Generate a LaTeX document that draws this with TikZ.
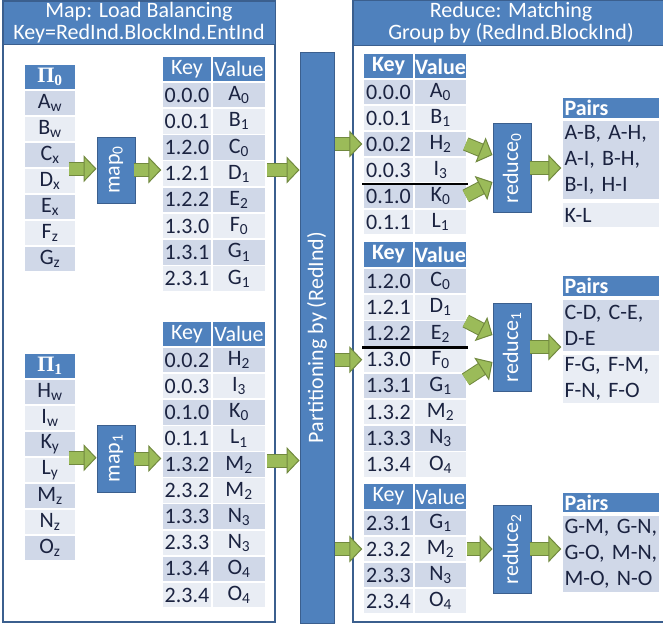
\documentclass[tikz,border=0pt]{standalone}
\usepackage{fontspec}
\setmainfont{Carlito}
\newfontfamily\pifont{Liberation Serif}
\usetikzlibrary{arrows.meta}

\definecolor{hdblue}{HTML}{4F81BD}
\definecolor{bdblue}{HTML}{3B5F8E}
\definecolor{rowdark}{HTML}{D0D8E8}
\definecolor{rowlight}{HTML}{E9EDF4}
\definecolor{gfill}{HTML}{9BBB59}
\definecolor{gline}{HTML}{71893F}
\definecolor{txt}{HTML}{1B2340}

\tikzset{
  panel/.style={draw=bdblue, line width=1.3pt},
  band/.style={fill=hdblue, draw=bdblue, line width=1pt, text=white, align=center, inner sep=0pt, font=\fontsize{22}{22}\selectfont},
  cell/.style={draw=white, line width=1.5pt, inner sep=0pt, text=txt, minimum height=26pt, font=\fontsize{22}{22}\selectfont},
  hcell/.style={cell, fill=hdblue, text=white},
  proc/.style={fill=hdblue, draw=bdblue, line width=1pt, text=white, inner sep=0pt, minimum width=38pt, font=\fontsize{22}{22}\selectfont},
  pcell/.style={cell, text width=93pt, inner xsep=2.5pt, align=left, font=\fontsize{22}{26}\selectfont},
  phead/.style={pcell, fill=hdblue, text=white, minimum height=21pt, font=\fontsize{22}{22}\selectfont\bfseries},
  sepline/.style={black, line width=2.5pt},
  garrow/.style={draw=gfill, line width=12pt,
    -{Triangle[length=13pt, width=27pt, line width=1pt, color=gline, fill=gfill]},
    preaction={draw=gline, line width=14pt, arrows=-, shorten >=11pt}},
}

\begin{document}
\begin{tikzpicture}[x=1pt, y=-1pt]
\useasboundingbox (0,0) rectangle (663,627);

% --- map side ---
\draw[panel] (3,1) rectangle (275,622);
\node[band, minimum width=272pt, minimum height=43pt] (maphead) at (139,22.5) {Map: Load Balancing\\Key=RedInd.BlockInd.EntInd};

% input splits
\node[hcell, minimum width=52pt] (pi0) at (50,77) {\pifont\bfseries Π\textsubscript{0}};
\foreach \l/\s [count=\i] in {A/w,B/w,C/x,D/x,E/x,F/z,G/z} {
  \ifodd\i \def\rowc{rowdark}\else \def\rowc{rowlight}\fi
  \node[cell, fill=\rowc, minimum width=52pt] (pi0c\i) at (50,77+26*\i) {\l\textsubscript{\s}};
}
\node[hcell, minimum width=52pt] (pi1) at (50,366) {\pifont\bfseries Π\textsubscript{1}};
\foreach \l/\s [count=\i] in {H/w,I/w,K/y,L/y,M/z,N/z,O/z} {
  \ifodd\i \def\rowc{rowdark}\else \def\rowc{rowlight}\fi
  \node[cell, fill=\rowc, minimum width=52pt] (pi1c\i) at (50,366+26*\i) {\l\textsubscript{\s}};
}

\node[proc, minimum height=66pt] (map0) at (116,170) {\rotatebox{90}{map\textsubscript{0}}};
\node[proc, minimum height=67pt] (map1) at (116,458.5) {\rotatebox{90}{map\textsubscript{1}}};

% map outputs
\node[hcell, minimum width=50pt] (t0k) at (187,69) {Key};
\node[hcell, minimum width=54pt] (t0v) at (239,69) {Value};
\foreach \k/\l/\s [count=\i] in {0.0.0/A/0,0.0.1/B/1,1.2.0/C/0,1.2.1/D/1,1.2.2/E/2,1.3.0/F/0,1.3.1/G/1,2.3.1/G/1} {
  \ifodd\i \def\rowc{rowdark}\else \def\rowc{rowlight}\fi
  \node[cell, fill=\rowc, minimum width=50pt] (t0k\i) at (187,68.9+26.2*\i) {\k};
  \node[cell, fill=\rowc, minimum width=54pt] (t0v\i) at (239,68.9+26.2*\i) {\l\textsubscript{\s}};
}
\node[hcell, minimum width=50pt] (t1k) at (187,334) {Key};
\node[hcell, minimum width=54pt] (t1v) at (239,334) {Value};
\foreach \k/\l/\s [count=\i] in {0.0.2/H/2,0.0.3/I/3,0.1.0/K/0,0.1.1/L/1,1.3.2/M/2,2.3.2/M/2,1.3.3/N/3,2.3.3/N/3,1.3.4/O/4,2.3.4/O/4} {
  \ifodd\i \def\rowc{rowdark}\else \def\rowc{rowlight}\fi
  \node[cell, fill=\rowc, minimum width=50pt] (t1k\i) at (187,334+26.1*\i) {\k};
  \node[cell, fill=\rowc, minimum width=54pt] (t1v\i) at (239,334+26.1*\i) {\l\textsubscript{\s}};
}

% --- shuffle ---
\node[proc, minimum width=34pt, minimum height=571pt] (part) at (317,337.5) {\rotatebox{90}{Partitioning by (RedInd)}};

% --- reduce side ---
\draw[panel] (670,1) -- (353,1) -- (353,622) -- (670,622);
\node[band, minimum width=316pt, minimum height=45pt] (redhead) at (511,23) {Reduce: Matching\\Group by (RedInd.BlockInd)};

\node[hcell, minimum width=51pt, font=\fontsize{22}{22}\selectfont\bfseries] (r0k) at (388.5,66.5) {Key};
\node[hcell, minimum width=53pt, font=\fontsize{22}{22}\selectfont\bfseries] (r0v) at (440.5,66.5) {Value};
\foreach \k/\l/\s [count=\i] in {0.0.0/A/0,0.0.1/B/1,0.0.2/H/2,0.0.3/I/3,0.1.0/K/0,0.1.1/L/1} {
  \ifodd\i \def\rowc{rowdark}\else \def\rowc{rowlight}\fi
  \node[cell, fill=\rowc, minimum width=51pt] (r0k\i) at (388.5,66+26*\i) {\k};
  \node[cell, fill=\rowc, minimum width=53pt] (r0v\i) at (440.5,66+26*\i) {\l\textsubscript{\s}};
}
\draw[sepline] (r0k4.south west) -- (r0v4.south east);

\node[hcell, minimum width=51pt, font=\fontsize{22}{22}\selectfont\bfseries] (r1k) at (388.5,254.5) {Key};
\node[hcell, minimum width=53pt, font=\fontsize{22}{22}\selectfont\bfseries] (r1v) at (440.5,254.5) {Value};
\foreach \k/\l/\s [count=\i] in {1.2.0/C/0,1.2.1/D/1,1.2.2/E/2,1.3.0/F/0,1.3.1/G/1,1.3.2/M/2,1.3.3/N/3,1.3.4/O/4} {
  \ifodd\i \def\rowc{rowdark}\else \def\rowc{rowlight}\fi
  \node[cell, fill=\rowc, minimum width=51pt] (r1k\i) at (388.5,254.9+26.2*\i) {\k};
  \node[cell, fill=\rowc, minimum width=53pt] (r1v\i) at (440.5,254.9+26.2*\i) {\l\textsubscript{\s}};
}
\draw[sepline] (r1k3.south west) -- (r1v3.south east);

\node[hcell, minimum width=51pt] (r2k) at (388.5,496.5) {Key};
\node[hcell, minimum width=53pt] (r2v) at (440.5,496.5) {Value};
\foreach \k/\l/\s [count=\i] in {2.3.1/G/1,2.3.2/M/2,2.3.3/N/3,2.3.4/O/4} {
  \ifodd\i \def\rowc{rowdark}\else \def\rowc{rowlight}\fi
  \node[cell, fill=\rowc, minimum width=51pt] (r2k\i) at (388.5,497+26*\i) {\k};
  \node[cell, fill=\rowc, minimum width=53pt] (r2v\i) at (440.5,497+26*\i) {\l\textsubscript{\s}};
}

\node[proc, minimum height=89pt] (red0) at (512,168) {\rotatebox{90}{reduce\textsubscript{0}}};
\node[proc, minimum height=88pt] (red1) at (512,347) {\rotatebox{90}{reduce\textsubscript{1}}};
\node[proc, minimum height=88pt] (red2) at (512,549) {\rotatebox{90}{reduce\textsubscript{2}}};

% matched pairs
\node[phead] (p0) at (611,108) {Pairs};
\node[pcell, fill=rowdark, minimum height=80pt] (p0a) at (611,160) {A-B, A-H,\\A-I, B-H,\\B-I, H-I};
\node[pcell, fill=rowlight, minimum height=26pt] (p0b) at (611,215) {K-L};
\node[phead] (p1) at (611,286) {Pairs};
\node[pcell, fill=rowdark, minimum height=53pt] (p1a) at (611,325.5) {C-D, C-E,\\D-E};
\node[pcell, fill=rowlight, minimum height=50pt] (p1b) at (611,379) {F-G, F-M,\\F-N, F-O};
\node[phead] (p2) at (611,502.5) {Pairs};
\node[pcell, fill=rowdark, minimum height=78pt] (p2a) at (611,554) {G-M, G-N,\\G-O, M-N,\\M-O, N-O};

% --- arrows ---
\draw[garrow] ([xshift=-8pt]pi0c3.south east) -- (pi0c3.south east -| map0.west);
\draw[garrow] ([xshift=-2pt]map0.east) -- (map0.east -| t0k1.west);
\draw[garrow] (map0.east -| t0v1.east) -- (map0.east -| part.west);
\draw[garrow] ([xshift=-8pt]pi1c3.south east) -- (pi1c3.south east -| map1.west);
\draw[garrow] ([xshift=-2pt]map1.east) -- (map1.east -| t1k1.west);
\draw[garrow] ([yshift=-2pt]map1.east -| t1v1.east) -- ([yshift=-2pt]map1.east -| part.west);

\draw[garrow] (part.east |- r0k3.west) -- (r0k3.west);
\draw[garrow] (part.east |- r1k4.west) -- (r1k4.west);
\draw[garrow] (part.east |- r2k2.west) -- (r2k2.west);

\draw[garrow] ([xshift=-2pt]r0v3.east) -- ([yshift=13pt]red0.west);
\draw[garrow] ([xshift=-2pt]r0v5.east) -- ([yshift=-14pt]red0.west);
\draw[garrow] ([xshift=-2pt]r1v2.south east) -- ([yshift=12pt]red1.west);
\draw[garrow] ([xshift=-2pt,yshift=-6pt]r1v4.south east) -- ([yshift=-15pt]red1.west);
\draw[garrow] ([xshift=-1pt]r2v2.east) -- (r2v2.east -| red2.west);

\draw[garrow] ([xshift=-2pt]red0.east) -- (red0.east -| p0a.west);
\draw[garrow] ([xshift=-2pt]red1.east) -- (red1.east -| p1a.west);
\draw[garrow] ([xshift=-2pt]red2.east) -- (red2.east -| p2a.west);
\end{tikzpicture}
\end{document}
